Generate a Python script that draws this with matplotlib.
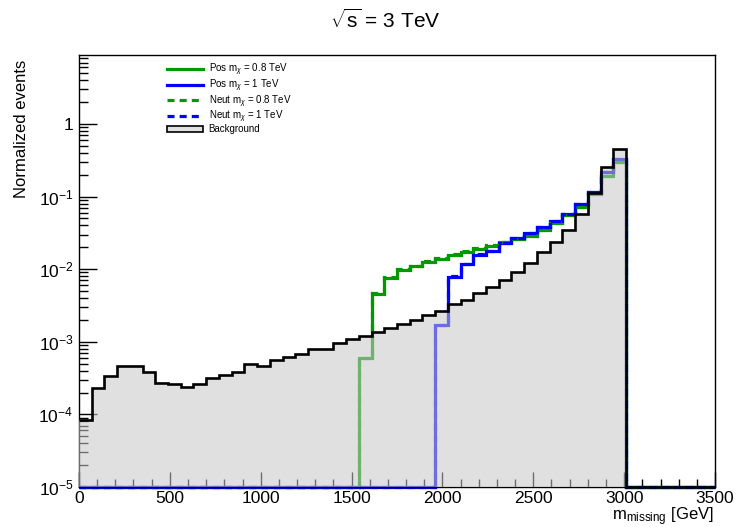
import numpy as np
import matplotlib.pyplot as plt
from matplotlib.lines import Line2D
from matplotlib.patches import Patch
from matplotlib.ticker import MultipleLocator, LogLocator, NullFormatter, FuncFormatter

plt.rcParams['font.family'] = ['Liberation Sans', 'DejaVu Sans']
plt.rcParams['mathtext.fontset'] = 'custom'
plt.rcParams['mathtext.rm'] = 'Liberation Sans'
plt.rcParams['mathtext.it'] = 'Liberation Sans:italic'
plt.rcParams['mathtext.sf'] = 'Liberation Sans'

# 50 bins of 70 GeV, 0 - 3500 GeV
edges = np.arange(0, 3501, 70)

bkg = [8.5e-5, 2.33e-4, 3.38e-4, 4.68e-4, 4.68e-4, 3.88e-4, 2.74e-4, 2.6e-4,
       2.4e-4, 2.63e-4, 3.14e-4, 3.49e-4, 3.8e-4, 4.9e-4, 4.68e-4, 5.6e-4,
       6.2e-4, 6.8e-4, 8.0e-4, 7.9e-4, 9.5e-4, 1.08e-3, 1.2e-3, 1.38e-3,
       1.56e-3, 1.76e-3, 2.0e-3, 2.34e-3, 2.69e-3, 3.3e-3, 3.77e-3, 4.7e-3,
       5.6e-3, 7.2e-3, 9.2e-3, 0.012, 0.017, 0.024, 0.035, 0.058,
       0.111, 0.258, 0.453, 0, 0, 0, 0, 0, 0, 0]

pos_08 = [0] * 22 + [6e-4, 4.6e-3, 7.6e-3, 9.7e-3, 0.011, 0.0125, 0.014, 0.0158,
                     0.0173, 0.019, 0.021, 0.0235, 0.0257, 0.029, 0.035, 0.043,
                     0.055, 0.071, 0.108, 0.19, 0.30] + [0] * 7
pos_1 = [0] * 28 + [1.7e-3, 7.9e-3, 0.0117, 0.0158, 0.0178, 0.0227, 0.0266, 0.031,
                    0.0385, 0.046, 0.058, 0.078, 0.115, 0.215, 0.33] + [0] * 7
neut_08 = [0] * 22 + [6e-4, 4.7e-3, 7.8e-3, 9.9e-3, 0.0112, 0.0128, 0.0143, 0.016,
                      0.0176, 0.0193, 0.0213, 0.0238, 0.026, 0.029, 0.035, 0.043,
                      0.055, 0.071, 0.108, 0.19, 0.30] + [0] * 7
neut_1 = [0] * 28 + [1.7e-3, 8.0e-3, 0.0118, 0.016, 0.018, 0.023, 0.027, 0.031,
                     0.0385, 0.046, 0.058, 0.078, 0.115, 0.22, 0.33] + [0] * 7

labels = [r'Pos m$_{\chi}$ = 0.8 TeV', r'Pos m$_{\chi}$ = 1 TeV',
          r'Neut m$_{\chi}$ = 0.8 TeV', r'Neut m$_{\chi}$ = 1 TeV', 'Background']

ymin, ymax = 1e-5, 8.9
green = '#009a00'
blue = '#0000ff'
dash = (0, (2.2, 1.6))


def floor(v):
    # empty bins sit on the bottom of the log axis
    v = np.asarray(v, dtype=float)
    return np.where(v > 0, v, ymin)


fig = plt.figure(figsize=(7.36, 5.27), dpi=100)
ax = fig.add_axes([0.1073, 0.0759, 0.8642, 0.8197])
ax.set_yscale('log')

sig = [(pos_08, green, '-'), (pos_1, blue, '-'),
       (neut_08, green, dash), (neut_1, blue, dash)]
for vals, c, ls in sig:
    ax.stairs(floor(vals), edges, baseline=None, color=c, lw=2.3,
              linestyle=ls, zorder=2.2, clip_on=False)

ax.stairs(floor(bkg), edges, baseline=ymin, fill=True, facecolor='#c8c8c8',
          edgecolor='none', alpha=0.55, zorder=3)
ax.stairs(floor(bkg), edges, baseline=None, color='black', lw=1.9,
          zorder=4, clip_on=False)

ax.set_xlim(0, 3500)
ax.set_ylim(ymin, ymax)

ax.xaxis.set_major_locator(MultipleLocator(500))
ax.xaxis.set_minor_locator(MultipleLocator(100))
ax.yaxis.set_major_locator(LogLocator(base=10, numticks=20))
ax.yaxis.set_minor_locator(LogLocator(base=10, subs=np.arange(2, 10), numticks=20))
ax.yaxis.set_minor_formatter(NullFormatter())


def ylab(v, pos):
    e = int(round(np.log10(v)))
    if e == 0:
        return '1'
    return r'$10^{%d}$' % e


ax.yaxis.set_major_formatter(FuncFormatter(ylab))
ax.tick_params(which='both', direction='in', top=False, right=False,
               labelsize=12.5, width=1)
ax.tick_params(axis='x', which='major', length=11, pad=3)
ax.tick_params(axis='x', which='minor', length=5.5)
ax.tick_params(axis='y', which='major', length=13, pad=4)
ax.tick_params(axis='y', which='minor', length=6.5)
for s in ax.spines.values():
    s.set_linewidth(1)

fig.text(385 / 736, 1 - 20 / 527, r'$\sqrt{\mathrm{s}}$ = 3 TeV',
         ha='center', va='center', fontsize=15)
fig.text(22 / 736, 1 - 60 / 527, 'Normalized events', rotation=90,
         ha='center', va='top', fontsize=12)
fig.text(714 / 736, 1 - 520 / 527, r'm$_{\mathrm{missing}}$ [GeV]',
         ha='right', va='baseline', fontsize=12)

handles = [Line2D([], [], color=green, lw=2.3),
           Line2D([], [], color=blue, lw=2.3),
           Line2D([], [], color=green, lw=2.3, linestyle=dash),
           Line2D([], [], color=blue, lw=2.3, linestyle=dash),
           Patch(facecolor='#e1e1e1', edgecolor='black', lw=1.2)]
fig.legend(handles, labels, loc='upper left',
           bbox_to_anchor=(162 / 736, 1 - 57 / 527), frameon=False,
           fontsize=7, handlelength=3.7, handleheight=0.7,
           labelspacing=-0.08, handletextpad=0.6, borderpad=0)

fig.savefig('out.png', dpi=100)
